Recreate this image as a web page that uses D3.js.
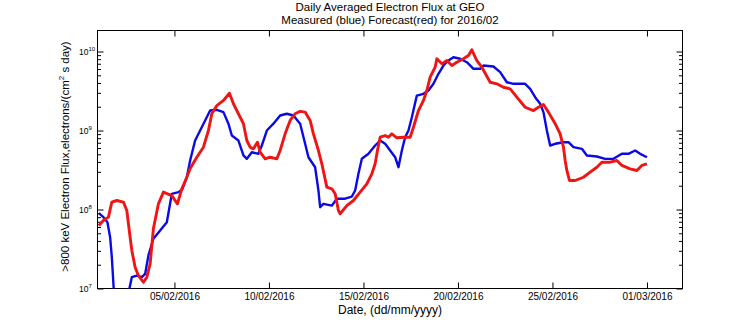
<!DOCTYPE html>
<html>
<head>
<meta charset="utf-8">
<script src="https://cdn.jsdelivr.net/npm/d3@7"></script>
<style>
  html, body { margin: 0; padding: 0; background: #ffffff; }
  svg { display: block; font-family: "Liberation Sans", Arial, Helvetica, sans-serif; }
</style>
</head>
<body>
<script>
// ---- data (day = day of February 2016, 30 = 01/03/2016) ----
const dayTicks = [5, 10, 15, 20, 25, 30];
const tickLabels = ["05/02/2016", "10/02/2016", "15/02/2016", "20/02/2016", "25/02/2016", "01/03/2016"];
const decadeTicks = [1e7, 1e8, 1e9, 1e10];
const decadeExponents = ["7", "8", "9", "10"];

const measuredDay = [1.0,1.243,1.455,1.598,1.688,1.772,1.836,2.2,2.566,2.619,
  2.746,3.011,3.275,3.45,3.624,3.889,4.243,4.598,4.862,5.212,
  5.407,5.656,5.831,6.095,6.36,6.624,6.889,7.243,7.593,7.857,
  8.037,8.386,8.651,8.831,9.095,9.444,9.624,9.889,10.238,10.593,
  10.947,11.296,11.651,11.915,12.09,12.444,12.619,12.709,12.884,13.328,
  13.593,14.032,14.386,14.561,14.735,14.915,15.265,15.619,15.884,16.148,
  16.413,16.677,16.852,17.032,17.206,17.381,17.561,17.825,18.175,18.439,
  18.704,18.968,19.233,19.497,19.762,20.116,20.471,20.82,21.175,21.349,
  21.878,22.233,22.587,22.937,23.556,23.82,24.085,24.349,24.524,24.704,
  24.878,25.143,25.582,25.847,26.111,26.556,26.82,27.349,27.788,28.228,
  28.672,29.021,29.376,29.64,30.0];
const measuredFlux = [9.0e7,8.0e7,6.9e7,4.46e7,2.49e7,1.15e7,6.1e6,3.0e6,7.1e6,1.0e7,
  1.39e7,1.46e7,1.39e7,1.53e7,2.62e7,4.26e7,5.42e7,6.9e7,1.58e8,1.66e8,
  1.79e8,2.56e8,4.17e8,7.47e8,1.0e9,1.34e9,1.79e9,1.83e9,1.71e9,1.22e9,
  8.64e8,7.47e8,4.83e8,4.38e8,5.31e8,5.07e8,6.46e8,1.0e9,1.22e9,1.55e9,
  1.63e9,1.55e9,1.22e9,6.79e8,4.59e8,3.43e8,1.74e8,1.07e8,1.18e8,1.12e8,
  1.37e8,1.37e8,1.46e8,1.74e8,2.83e8,4.38e8,5.07e8,6.46e8,7.47e8,6.79e8,
  5.58e8,4.59e8,3.43e8,5.58e8,8.23e8,1.0e9,1.47e9,2.77e9,2.91e9,3.21e9,
  3.90e9,5.22e9,6.65e9,7.69e9,8.47e9,8.09e9,7.32e9,6.04e9,6.04e9,6.65e9,
  6.46e9,5.47e9,4.08e9,3.90e9,3.90e9,3.37e9,2.64e9,2.18e9,1.71e9,1.0e9,
  6.46e8,6.79e8,7.11e8,7.11e8,6.15e8,5.86e8,4.83e8,4.69e8,4.38e8,4.38e8,
  5.07e8,5.07e8,5.58e8,5.07e8,4.59e8];

const forecastDay = [1.0,1.243,1.508,1.688,1.952,2.302,2.481,2.656,2.746,2.921,
  3.095,3.36,3.54,3.714,3.889,4.153,4.418,4.862,5.159,5.392,
  5.656,5.831,6.185,6.534,6.799,6.979,7.243,7.593,7.91,8.122,
  8.386,8.651,8.831,9.005,9.18,9.392,9.534,9.799,10.063,10.418,
  10.593,10.857,11.122,11.386,11.651,11.915,12.18,12.354,12.619,12.799,
  13.063,13.328,13.503,13.677,13.767,14.122,14.471,14.825,15.18,15.444,
  15.619,15.741,15.884,16.148,16.323,16.503,16.767,17.116,17.471,17.646,
  17.91,18.175,18.354,18.529,18.794,18.884,19.148,19.413,19.677,19.942,
  20.291,20.556,20.735,21.0,21.265,21.704,22.058,22.407,22.762,23.116,
  23.556,23.995,24.259,24.524,24.788,25.143,25.407,25.582,25.672,25.762,
  25.899,26.201,26.64,26.995,27.349,27.614,28.053,28.407,28.672,29.111,
  29.466,29.73,30.0];
const forecastFlux = [6.27e7,7.26e7,8.0e7,1.24e8,1.30e8,1.24e8,9.7e7,4.46e7,3.03e7,1.86e7,
  1.46e7,1.20e7,1.39e7,2.05e7,5.75e7,1.18e8,1.66e8,1.50e8,1.18e8,1.83e8,
  2.56e8,3.30e8,4.59e8,6.15e8,1.0e9,1.63e9,2.07e9,2.40e9,2.97e9,2.18e9,
  1.63e9,1.22e9,7.47e8,6.15e8,5.86e8,7.11e8,5.31e8,4.38e8,4.59e8,4.38e8,
  5.58e8,9.08e8,1.34e9,1.63e9,1.75e9,1.71e9,1.34e9,9.08e8,5.58e8,3.79e8,
  1.92e8,1.83e8,1.58e8,9.7e7,8.83e7,1.12e8,1.30e8,1.66e8,2.11e8,2.83e8,
  3.79e8,5.58e8,8.23e8,8.64e8,8.23e8,9.08e8,8.09e8,8.23e8,8.23e8,1.10e9,
  1.79e9,2.40e9,3.21e9,4.73e9,6.33e9,8.09e9,6.98e9,7.69e9,6.65e9,7.32e9,
  8.09e9,8.89e9,1.05e10,7.69e9,6.33e9,4.08e9,3.90e9,3.53e9,3.37e9,2.64e9,
  1.97e9,1.79e9,1.97e9,2.13e9,1.71e9,1.22e9,9.08e8,6.15e8,4.17e8,3.12e8,
  2.33e8,2.33e8,2.56e8,2.97e8,3.43e8,3.97e8,3.97e8,4.17e8,3.61e8,3.27e8,
  3.12e8,3.61e8,3.79e8];

const titleLines = ["Daily Averaged Electron Flux at GEO", "Measured (blue) Forecast(red) for 2016/02"];
const xLabel = "Date, (dd/mm/yyyy)";

// ---- layout ----
const W = 756, H = 324;
const P = { left: 97.5, right: 682.5, top: 30.5, bottom: 288.5 };

const svg = d3.select("body").append("svg").attr("width", W).attr("height", H);

const x = d3.scaleLinear().domain([0.93, 31.88]).range([P.left, P.right]);
const y = d3.scaleLog().domain([1e7, 1.845e10]).range([P.bottom, P.top]);

// clip
svg.append("clipPath").attr("id", "clip").append("rect")
  .attr("x", P.left).attr("y", P.top).attr("width", P.right - P.left).attr("height", P.bottom - P.top);

// minor ticks
const minorTicks = [];
decadeTicks.forEach(d => { for (let k = 2; k <= 9; k++) { const v = d * k; if (v < y.domain()[1]) minorTicks.push(v); } });

const axisG = svg.append("g").attr("class", "axes");

function styleAxis(g) {
  g.select(".domain").remove();
  g.selectAll(".tick line").attr("stroke", "#000").attr("stroke-width", 1);
}

// bottom axis with labels
axisG.append("g").attr("transform", `translate(0,${P.bottom})`)
  .call(d3.axisBottom(x).tickValues(dayTicks).tickFormat((d, i) => tickLabels[i]).tickSizeInner(-6).tickSizeOuter(0).tickPadding(4.5))
  .call(styleAxis)
  .call(g => g.selectAll("text").attr("font-size", 10).attr("fill", "#000").attr("font-family", "Liberation Sans, Arial, sans-serif"));

// top axis
axisG.append("g").attr("transform", `translate(0,${P.top})`)
  .call(d3.axisTop(x).tickValues(dayTicks).tickFormat("").tickSizeInner(-6).tickSizeOuter(0))
  .call(styleAxis);

// left axis majors/minors
axisG.append("g").attr("transform", `translate(${P.left},0)`)
  .call(d3.axisLeft(y).tickValues(decadeTicks).tickFormat("").tickSizeInner(-6).tickSizeOuter(0))
  .call(styleAxis);
axisG.append("g").attr("transform", `translate(${P.left},0)`)
  .call(d3.axisLeft(y).tickValues(minorTicks).tickFormat("").tickSizeInner(-3.5).tickSizeOuter(0))
  .call(styleAxis);
// right axis
axisG.append("g").attr("transform", `translate(${P.right},0)`)
  .call(d3.axisRight(y).tickValues(decadeTicks).tickFormat("").tickSizeInner(-6).tickSizeOuter(0))
  .call(styleAxis);
axisG.append("g").attr("transform", `translate(${P.right},0)`)
  .call(d3.axisRight(y).tickValues(minorTicks).tickFormat("").tickSizeInner(-3.5).tickSizeOuter(0))
  .call(styleAxis);

// y tick labels 10^n
const yl = svg.append("g").attr("font-size", 8.5).attr("fill", "#000");
decadeTicks.forEach((v, i) => {
  const t = yl.append("text").attr("x", 79).attr("y", y(v) + 3.5);
  t.append("tspan").text("10");
  t.append("tspan").attr("font-size", 6).attr("dy", -4.5).text(decadeExponents[i]);
});

// frame
svg.append("rect").attr("x", P.left).attr("y", P.top)
  .attr("width", P.right - P.left).attr("height", P.bottom - P.top)
  .attr("fill", "none").attr("stroke", "#000").attr("stroke-width", 1);

// series
const line = d3.line().x(d => x(d[0])).y(d => y(d[1]));
const measured = measuredDay.map((d, i) => [d, measuredFlux[i]]);
const forecast = forecastDay.map((d, i) => [d, forecastFlux[i]]);

const plotG = svg.append("g").attr("clip-path", "url(#clip)");
plotG.append("path").datum(measured).attr("d", line)
  .attr("fill", "none").attr("stroke", "#0a0ae6").attr("stroke-width", 2.4).attr("stroke-linejoin", "round");
plotG.append("path").datum(forecast).attr("d", line)
  .attr("fill", "none").attr("stroke", "#f01414").attr("stroke-width", 2.9).attr("stroke-linejoin", "round");

// titles
const cx = (P.left + P.right) / 2;
svg.append("text").attr("x", cx).attr("y", 11).attr("text-anchor", "middle").attr("font-size", 11.5).text(titleLines[0]);
svg.append("text").attr("x", cx).attr("y", 24.2).attr("text-anchor", "middle").attr("font-size", 11.5).text(titleLines[1]);
svg.append("text").attr("x", cx).attr("y", 313.5).attr("text-anchor", "middle").attr("font-size", 12).text(xLabel);

// y label
const ylab = svg.append("text").attr("transform", "translate(69,156.5) rotate(-90)")
  .attr("text-anchor", "middle").attr("font-size", 11.5);
ylab.append("tspan").text(">800 keV Electron Flux,electrons/(cm");
ylab.append("tspan").attr("font-size", 8).attr("dy", -5).text("2");
ylab.append("tspan").attr("dy", 5).text(" s day)");
</script>
</body>
</html>
